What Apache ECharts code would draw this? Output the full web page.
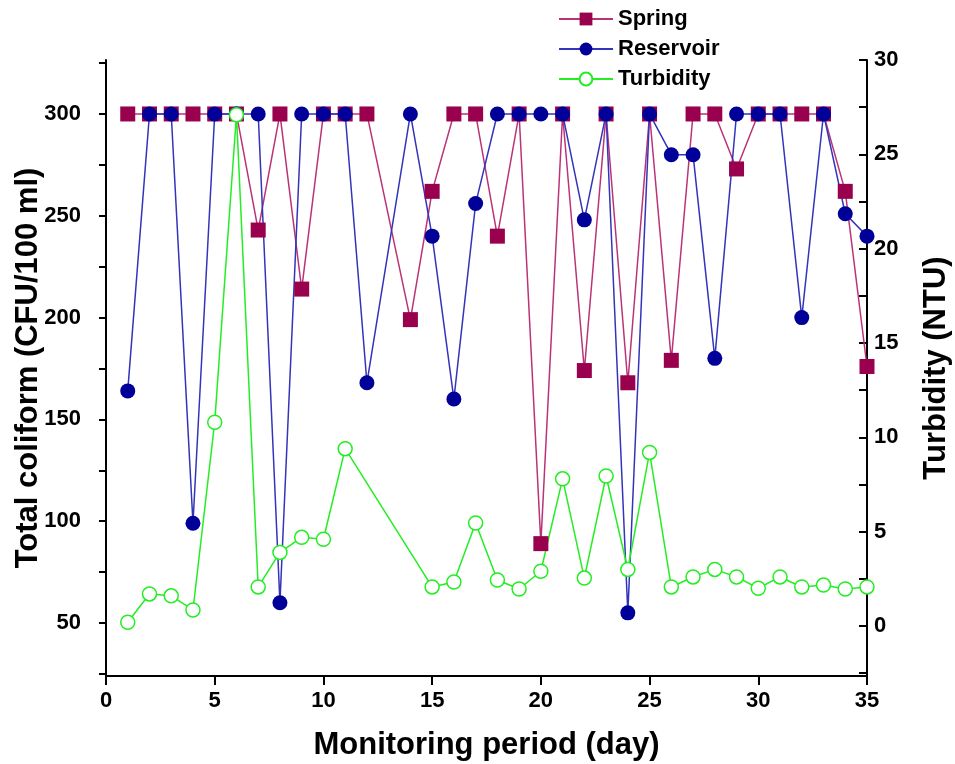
<!DOCTYPE html>
<html>
<head>
<meta charset="utf-8">
<script src="https://cdn.jsdelivr.net/npm/echarts@6/dist/echarts.min.js"></script>
<style>
html,body{margin:0;padding:0;background:#fff;}
#chart{width:955px;height:764px;}
</style>
</head>
<body>
<div id="chart"></div>
<script>
const days = [1,2,3,4,5,6,7,8,9,10,11,12,13,14,15,16,17,18,19,20,21,22,23,24,25,26,27,28,29,30,31,32,33,34,35];
const spring = [300,300,300,300,300,300,243,300,214,300,300,300,null,199,262,300,300,240,300,89,300,174,300,168,300,179,300,300,273,300,300,300,300,262,176];
const reservoir = [164,300,300,99,300,300,300,60,300,300,300,168,null,300,240,160,256,300,300,300,300,248,300,55,300,280,280,180,300,300,300,200,300,251,240];
const turbidity = [0.2,1.7,1.6,0.85,10.8,27.1,2.07,3.9,4.7,4.6,9.4,null,null,null,2.07,2.33,5.46,2.44,1.96,2.9,7.8,2.54,7.95,3.0,9.2,2.07,2.6,3.0,2.6,2.0,2.6,2.07,2.17,1.96,2.07];
const xTicks = [0,5,10,15,20,25,30,35];
const leftLabels = [50,100,150,200,250,300];
const leftTicks = [25,50,75,100,125,150,175,200,225,250,275,300,325];
const rightLabels = [0,5,10,15,20,25,30];
const rightTicks = [-2.5,0,2.5,5,7.5,10,12.5,15,17.5,20,22.5,25,27.5,30];

const pair = arr => days.map((d,i) => [d, arr[i]]);
const font = '"Liberation Sans", Arial, sans-serif';
const axisLineStyle = {color:'#000', width:2};
const labelStyle = {fontFamily:font, fontWeight:'bold', fontSize:22, color:'#000'};
const titleStyle = {fontFamily:font, fontWeight:'bold', fontSize:31, color:'#000'};

const chart = echarts.init(document.getElementById('chart'));
chart.setOption({
  animation:false,
  backgroundColor:'#fff',
  grid:{left:106, right:88, top:60, bottom:88, containLabel:false, outerBoundsMode:'none'},
  legend:{
    orient:'vertical', left:553, top:3, itemWidth:54, itemHeight:16, itemGap:8,
    textStyle:{fontFamily:font, fontWeight:'bold', fontSize:22, color:'#000'},
    data:['Spring','Reservoir','Turbidity']
  },
  xAxis:{
    type:'value', min:0, max:35, interval:5, position:'bottom',
    name:'Monitoring period (day)', nameLocation:'middle', nameGap:54,
    nameTextStyle:titleStyle,
    axisLine:{show:true, onZero:true, onZeroAxisIndex:2, lineStyle:axisLineStyle},
    axisTick:{show:true, inside:false, length:9, lineStyle:{color:'#000', width:2}, customValues:xTicks},
    axisLabel:Object.assign({margin:14, customValues:xTicks}, labelStyle),
    splitLine:{show:false}
  },
  yAxis:[{
    type:'value', min:24, max:326.5, position:'left',
    name:'Total coliform (CFU/100 ml)', nameLocation:'middle', nameGap:62, nameMoveOverlap:false,
    nameTextStyle:titleStyle,
    axisLine:{show:true, onZero:false, lineStyle:axisLineStyle},
    axisTick:{show:true, inside:false, length:7, lineStyle:axisLineStyle, customValues:leftTicks},
    axisLabel:Object.assign({margin:25, customValues:leftLabels}, labelStyle),
    splitLine:{show:false}
  },{
    type:'value', min:-2.65, max:30, position:'right',
    name:'Turbidity (NTU)', nameLocation:'middle', nameGap:54, nameRotate:90, nameMoveOverlap:false,
    nameTextStyle:titleStyle,
    axisLine:{show:true, onZero:false, lineStyle:axisLineStyle},
    axisTick:{show:true, inside:true, length:8, lineStyle:axisLineStyle, customValues:rightTicks},
    axisLabel:Object.assign({margin:7, customValues:rightLabels}, labelStyle),
    splitLine:{show:false}
  },{
    type:'value', min:0, max:1, position:'left', show:false,
    axisLine:{show:false, onZero:false}, axisTick:{show:false}, axisLabel:{show:false}, splitLine:{show:false}
  }],
  series:[{
    name:'Spring', type:'line', yAxisIndex:0, data:pair(spring), connectNulls:true,
    symbol:'rect', symbolSize:15,
    itemStyle:{color:'#99004D'},
    lineStyle:{color:'#BB3377', width:1.5}
  },{
    name:'Reservoir', type:'line', yAxisIndex:0, data:pair(reservoir), connectNulls:true,
    symbol:'circle', symbolSize:15,
    itemStyle:{color:'#000099'},
    lineStyle:{color:'#3333BB', width:1.5}
  },{
    name:'Turbidity', type:'line', yAxisIndex:1, data:pair(turbidity), connectNulls:true,
    symbol:'circle', symbolSize:14,
    itemStyle:{color:'#ffffff', borderColor:'#22EE22', borderWidth:1.5},
    lineStyle:{color:'#22EE22', width:1.5}
  }]
});
</script>
</body>
</html>
